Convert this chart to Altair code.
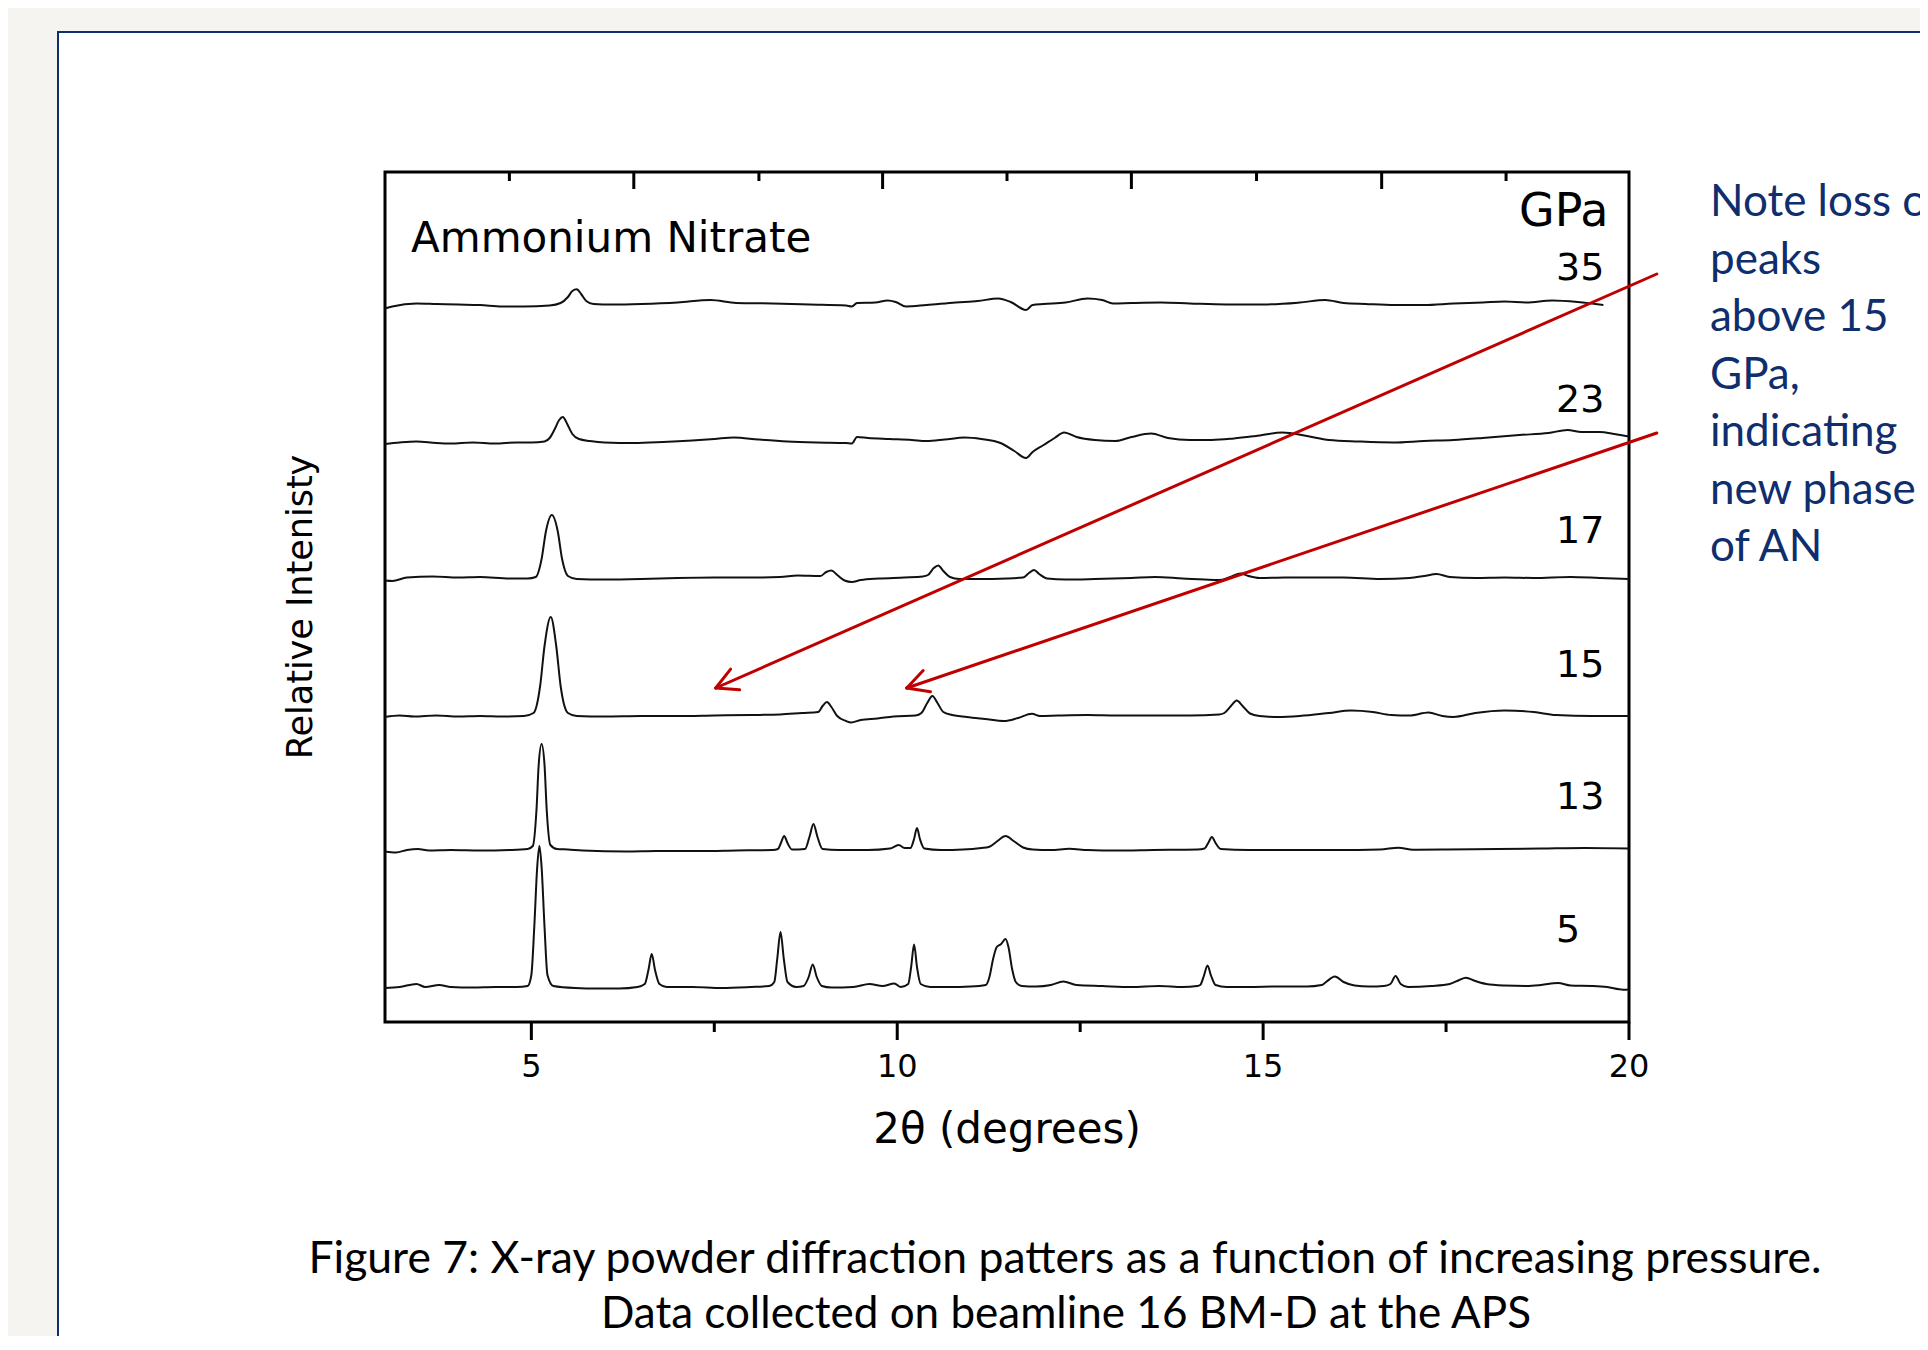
import math
import altair as alt
import pandas as pd

# ---------------- data ----------------
pressures = ["35", "23", "17", "15", "13", "5"]
offsets = [717, 579, 443, 306, 172, 35]          # vertical stacking offset of each pattern

# (2theta, relative intensity above the pattern's own baseline)
pattern_35 = [(3.0,-3.5),(3.1,-1.5),(3.43,1.5),(3.7,1),(4.0,0.5),(4.3,0),(4.6,-1.5),(4.9,-1.5),(5.25,-0.5),(5.4,2),
              (5.50,8),(5.56,14),(5.62,15.7),(5.68,11),(5.75,4),(5.85,1),(6.1,0.5),(6.5,1),(7.0,2.5),(7.45,5),(7.8,2),
              (8.3,1.5),(8.8,0.5),(9.3,-0.5),(9.38,-1.5),(9.45,2),(9.7,2.5),(9.87,4.5),(9.98,3),(10.12,-1.5),(10.4,0),
              (10.8,2.5),(11.1,4),(11.38,6.5),(11.55,3),(11.76,-5),(11.85,0),(12.0,1),(12.3,2.5),(12.6,6.5),(12.8,5),
              (12.95,1.5),(13.2,2),(13.6,2.5),(14.0,1.5),(14.5,0.5),(15.0,0.5),(15.5,2.5),(15.85,5),(16.1,2),(16.4,1),
              (16.8,0),(17.2,0),(17.6,1.5),(18.0,2.5),(18.3,3.5),(18.6,2.5),(18.95,4.5),(19.3,3),(19.65,0)]
pattern_23 = [(3.0,-1),(3.2,0.5),(3.43,1.5),(3.7,0),(3.9,-0.5),(4.2,0.5),(4.5,-0.5),(4.8,0.5),(5.0,0.5),(5.18,1.5),
              (5.25,5),(5.32,14),(5.38,23),(5.43,26),(5.49,19),(5.56,9),(5.65,4),(5.8,2),(6.0,0.5),(6.4,0),(6.8,1),
              (7.2,2.5),(7.5,4),(7.77,5.5),(8.1,3.5),(8.5,1.5),(8.9,0.5),(9.3,0),(9.38,-0.5),(9.45,6),(9.6,5),(9.9,4),
              (10.2,3),(10.4,2),(10.65,3.5),(10.92,5.5),(11.15,4),(11.41,0),(11.6,-8),(11.76,-15),(11.85,-9),(12.0,-2),
              (12.15,5),(12.28,10.5),(12.45,6),(12.7,3),(12.98,2),(13.2,6),(13.47,9.5),(13.7,5),(14.0,3),(14.3,3),
              (14.6,4.5),(14.9,7),(15.26,10.5),(15.6,7),(15.9,3),(16.3,1.5),(16.78,0.5),(17.2,2),(17.6,3),(18.0,5),
              (18.5,8),(18.9,10),(19.16,13),(19.35,11),(19.6,11),(19.8,9),(20.0,6.5)]
pattern_17 = [(3.0,-1.5),(3.1,-2),(3.3,1.5),(3.65,2.5),(4.0,1.5),(4.3,2),(4.7,0.5),(4.95,0.5),(5.06,2),(5.14,20),
              (5.20,48),(5.28,64),(5.36,48),(5.42,20),(5.50,3),(5.62,0),(6.0,-0.5),(6.5,0),(7.0,1),(7.5,1.5),(8.0,1.5),
              (8.4,2),(8.64,3.5),(8.95,3),(9.03,7),(9.10,8.5),(9.18,4),(9.28,-1.5),(9.38,-3),(9.5,-1),(9.75,0.5),
              (10.1,1.5),(10.35,2.5),(10.42,4),(10.50,11),(10.56,13.5),(10.63,8),(10.72,2),(10.85,0),(11.1,0),
              (11.5,0.5),(11.72,1.5),(11.80,6),(11.87,9),(11.94,5),(12.05,0.5),(12.3,-0.5),(12.7,0),(13.2,1),
              (13.52,2),(13.9,0.5),(14.2,-0.5),(14.4,-1),(14.55,2),(14.69,5.5),(14.8,3),(14.95,1),(15.3,1.5),
              (15.7,1.5),(16.1,1.5),(16.6,0),(17.0,1),(17.2,3),(17.37,5),(17.55,2),(17.9,1),(18.3,1.5),(18.7,1),
              (19.2,2),(19.6,1),(20.0,0)]
pattern_15 = [(3.0,-1),(3.2,0.5),(3.4,-0.5),(3.7,0.5),(4.0,-0.5),(4.3,0),(4.6,-0.5),(4.9,0),(5.03,3),(5.12,30),
              (5.18,70),(5.265,99),(5.34,70),(5.40,30),(5.50,3),(5.62,0),(6.0,-0.5),(6.5,0),(7.0,0),(7.5,0.5),
              (8.0,1),(8.4,1.5),(8.7,3),(8.92,4),(8.98,10),(9.04,14),(9.10,9),(9.18,0),(9.30,-5),(9.37,-6.5),
              (9.5,-4),(9.73,-2.5),(9.95,-0.5),(10.25,0.5),(10.33,3),(10.41,13),(10.48,20),(10.55,13),(10.63,4),
              (10.75,1),(10.95,-1),(11.2,-3),(11.46,-5),(11.65,-2),(11.84,2.3),(11.95,0),(12.2,0.5),(12.6,1),
              (13.0,0.5),(13.5,0.5),(14.0,0.5),(14.4,1.5),(14.47,3),(14.56,10),(14.64,15.5),(14.72,10),(14.82,2.5),
              (14.95,0),(15.2,-1),(15.5,0),(15.9,3),(16.2,5.5),(16.5,4),(16.75,1),(17.0,0.5),(17.26,3.5),(17.45,0),
              (17.6,-1),(17.9,3),(18.3,5.5),(18.7,4),(19.0,1),(19.5,0),(20.0,0)]
pattern_13 = [(3.0,-1.5),(3.15,-2.5),(3.3,0),(3.45,1),(3.6,-0.5),(3.9,0),(4.3,-0.5),(4.7,0),(4.95,1),(5.02,4),
              (5.07,40),(5.10,85),(5.14,106),(5.18,85),(5.21,40),(5.26,5),(5.35,1),(5.5,0.5),(5.7,-0.5),(6.3,-1.5),
              (6.7,-1),(7.3,-1),(7.8,-0.5),(8.3,0),(8.37,1),(8.41,7),(8.455,14),(8.50,7),(8.56,0.5),(8.74,1),
              (8.80,13),(8.855,26),(8.91,13),(8.98,1),(9.2,0),(9.6,0),(9.9,1.5),(10.02,5),(10.10,2),(10.18,2),
              (10.23,11),(10.27,22),(10.31,11),(10.37,1.5),(10.6,0),(10.9,0.5),(11.15,2),(11.25,3),(11.37,9),
              (11.48,14),(11.59,9),(11.72,2.5),(11.85,0.5),(12.1,0),(12.35,1.2),(12.6,0),(13.0,-0.5),(13.5,0),
              (14.1,0.5),(14.20,1.5),(14.25,7),(14.30,13),(14.35,7),(14.42,1),(14.8,0),(15.5,0),(16.0,0),(16.6,0.5),
              (16.85,2.3),(17.05,0.2),(17.5,0.5),(18.2,1),(18.8,1.5),(19.4,2),(20.0,1.5)]
pattern_5 = [(3.0,-1),(3.2,0),(3.43,3),(3.55,0),(3.74,2),(3.9,0),(4.2,-0.5),(4.5,0),(4.8,0),(4.95,1),(5.00,12),
             (5.04,60),(5.08,120),(5.11,141),(5.14,120),(5.18,60),(5.22,12),(5.30,1),(5.6,-1),(5.9,-1.5),(6.2,-1.5),
             (6.45,0),(6.55,3),(6.60,17),(6.645,33),(6.69,17),(6.75,3),(6.85,0),(7.2,0),(7.6,-1),(8.0,0),(8.25,1),
             (8.32,5),(8.36,28),(8.405,55),(8.45,28),(8.50,5),(8.62,0),(8.72,1),(8.79,10),(8.845,22.5),(8.90,10),
             (8.97,1),(9.1,-0.5),(9.4,0),(9.62,3),(9.8,1),(9.96,3.5),(10.05,0),(10.15,3),(10.19,20),(10.23,42.5),
             (10.27,20),(10.32,3),(10.45,0),(10.7,0),(11.0,0.5),(11.21,2),(11.26,10),(11.31,28),(11.36,40),
             (11.42,43),(11.48,48),(11.52,40),(11.57,18),(11.62,5),(11.70,1),(11.9,0.5),(12.1,2),(12.27,5.5),
             (12.45,2),(12.8,1),(13.2,0),(13.58,1),(13.9,0),(14.1,1),(14.14,2),(14.19,11),(14.24,21.5),(14.29,11),
             (14.35,2),(14.5,0),(14.8,0),(15.2,0.5),(15.6,0.5),(15.8,2),(15.86,5),(15.98,10.5),(16.1,5),(16.25,1.5),
             (16.45,0.5),(16.65,1),(16.74,3),(16.81,11),(16.88,3),(16.98,0),(17.3,1),(17.55,3),(17.68,7),(17.77,9.3),
             (17.9,6),(18.05,3),(18.3,1.5),(18.6,1),(18.8,2),(19.03,4),(19.2,1.5),(19.5,1),(19.7,0),(19.92,-2.7),
             (20.0,-2.5)]
patterns = [pattern_35, pattern_23, pattern_17, pattern_15, pattern_13, pattern_5]

bottom_major = [5, 10, 15, 20]
bottom_minor = [7.5, 12.5, 17.5]
top_long = [6.40, 9.80, 13.20, 16.62]
top_short = [4.70, 8.11, 11.50, 14.91, 18.32]
tick_labels = ["5", "10", "15", "20"]

arrow_tips = [(7.52, 334), (10.13, 334)]
arrow_tails = [(20.38, 748), (20.38, 589)]

title_text = "Ammonium Nitrate"
unit_text = "GPa"
x_title = "2\u03b8 (degrees)"
y_title = "Relative Intenisty"
note_lines = ["Note loss of", "peaks", "above 15", "GPa,", "indicating", "new phase", "of AN"]
caption_lines = ["Figure 7: X-ray powder diffraction patters as a function of increasing pressure.",
                 "Data collected on beamline 16 BM-D at the APS"]

# ---------------- layout / style ----------------
W, H = 1244, 850
XMIN, XMAX = 3, 20
YMIN, YMAX = 0, 850
FONT = "DejaVu Sans"
CAP_FONT = "Lato"
NAVY = "#0F2E6D"
RED = "#C00000"

xs = alt.Scale(domain=[XMIN, XMAX], nice=False, zero=False)
ys = alt.Scale(domain=[YMIN, YMAX], nice=False, zero=False)

rows = []
for p, off, pts in zip(pressures, offsets, patterns):
    for i, (x, v) in enumerate(pts):
        rows.append({"p": p, "i": i, "x": x, "y": v + off})
traces = pd.DataFrame(rows)

one = pd.DataFrame({"a": [0]})

panel = alt.Chart(one).mark_rect(fill="white", stroke=NAVY, strokeWidth=2).encode(
    x=alt.value(-327), x2=alt.value(W + 400), y=alt.value(-140), y2=alt.value(H + 400))

frame = alt.Chart(one).mark_rect(fillOpacity=0, stroke="black", strokeWidth=3).encode(
    x=alt.value(0), x2=alt.value(W), y=alt.value(0), y2=alt.value(H))

def tick_layer(vals, y0, y1):
    return alt.Chart(pd.DataFrame({"v": vals})).mark_rule(color="black", strokeWidth=3).encode(
        x=alt.X("v:Q", scale=xs, axis=None), y=alt.value(y0), y2=alt.value(y1))

ticks = [tick_layer(bottom_major, H, H + 18), tick_layer(bottom_minor, H, H + 10),
         tick_layer(top_long, 0, 17), tick_layer(top_short, 0, 9)]

lines = alt.Chart(traces).mark_line(color="#111111", strokeWidth=2.0, interpolate="monotone").encode(
    x=alt.X("x:Q", scale=xs, axis=None),
    y=alt.Y("y:Q", scale=ys, axis=None),
    detail="p:N", order="i:Q")

tick_text = alt.Chart(pd.DataFrame({"v": bottom_major, "t": tick_labels})).mark_text(
    font=FONT, fontSize=32, align="center", baseline="alphabetic", color="black").encode(
    x=alt.X("v:Q", scale=xs, axis=None), y=alt.value(905), text="t:N")

def txt(s, x, y, size, font=FONT, color="black", align="left", angle=0):
    kw = dict(font=font, fontSize=size, align=align, baseline="alphabetic", color=color, text=s)
    if angle:
        kw["angle"] = angle
    return alt.Chart(one).mark_text(**kw).encode(x=alt.value(x), y=alt.value(y))

label_y = [108, 240, 371, 505, 637, 770]
texts = [txt(title_text, 26, 80, 42), txt(unit_text, 1134, 54, 46)]
texts += [txt(p, 1171, yy, 38) for p, yy in zip(pressures, label_y)]
texts += [txt(x_title, W / 2, 971, 42, align="center"),
          txt(y_title, -73, 435, 35, align="center", angle=270)]
note_y = [44, 101.5, 159, 216.5, 274, 331.5, 389]
texts += [txt(s, 1325, yy, 44, font=CAP_FONT, color=NAVY) for s, yy in zip(note_lines, note_y)]
texts += [txt(caption_lines[0], 680, 1101, 44.5, font=CAP_FONT, align="center"),
          txt(caption_lines[1], 681, 1156, 44, font=CAP_FONT, align="center")]

# arrows (shaft + open V head), in data units
PX_X = W / (XMAX - XMIN)
PX_Y = H / (YMAX - YMIN)
segs = []
for (tx, ty), (sx, sy) in zip(arrow_tips, arrow_tails):
    segs.append({"x": sx, "y": sy, "x2": tx, "y2": ty})
    dxp, dyp = (sx - tx) * PX_X, (sy - ty) * PX_Y
    L = math.hypot(dxp, dyp)
    ux, uy = dxp / L, dyp / L
    for a in (math.radians(28), -math.radians(28)):
        rx = ux * math.cos(a) - uy * math.sin(a)
        ry = ux * math.sin(a) + uy * math.cos(a)
        segs.append({"x": tx, "y": ty, "x2": tx + rx * 24 / PX_X, "y2": ty + ry * 24 / PX_Y})
arrows = alt.Chart(pd.DataFrame(segs)).mark_rule(color=RED, strokeWidth=3, strokeCap="round").encode(
    x=alt.X("x:Q", scale=xs, axis=None), x2="x2:Q",
    y=alt.Y("y:Q", scale=ys, axis=None), y2="y2:Q")

chart = alt.layer(panel, frame, *ticks, lines, tick_text, *texts, arrows).properties(
    width=W, height=H,
    padding={"left": 377, "top": 164, "right": 291, "bottom": 314},
    autosize=alt.AutoSizeParams(type="none"),
    background="#F5F4F0",
).configure_view(stroke=None)

chart.save("out.html", embed_options={"renderer": "svg", "actions": False})
